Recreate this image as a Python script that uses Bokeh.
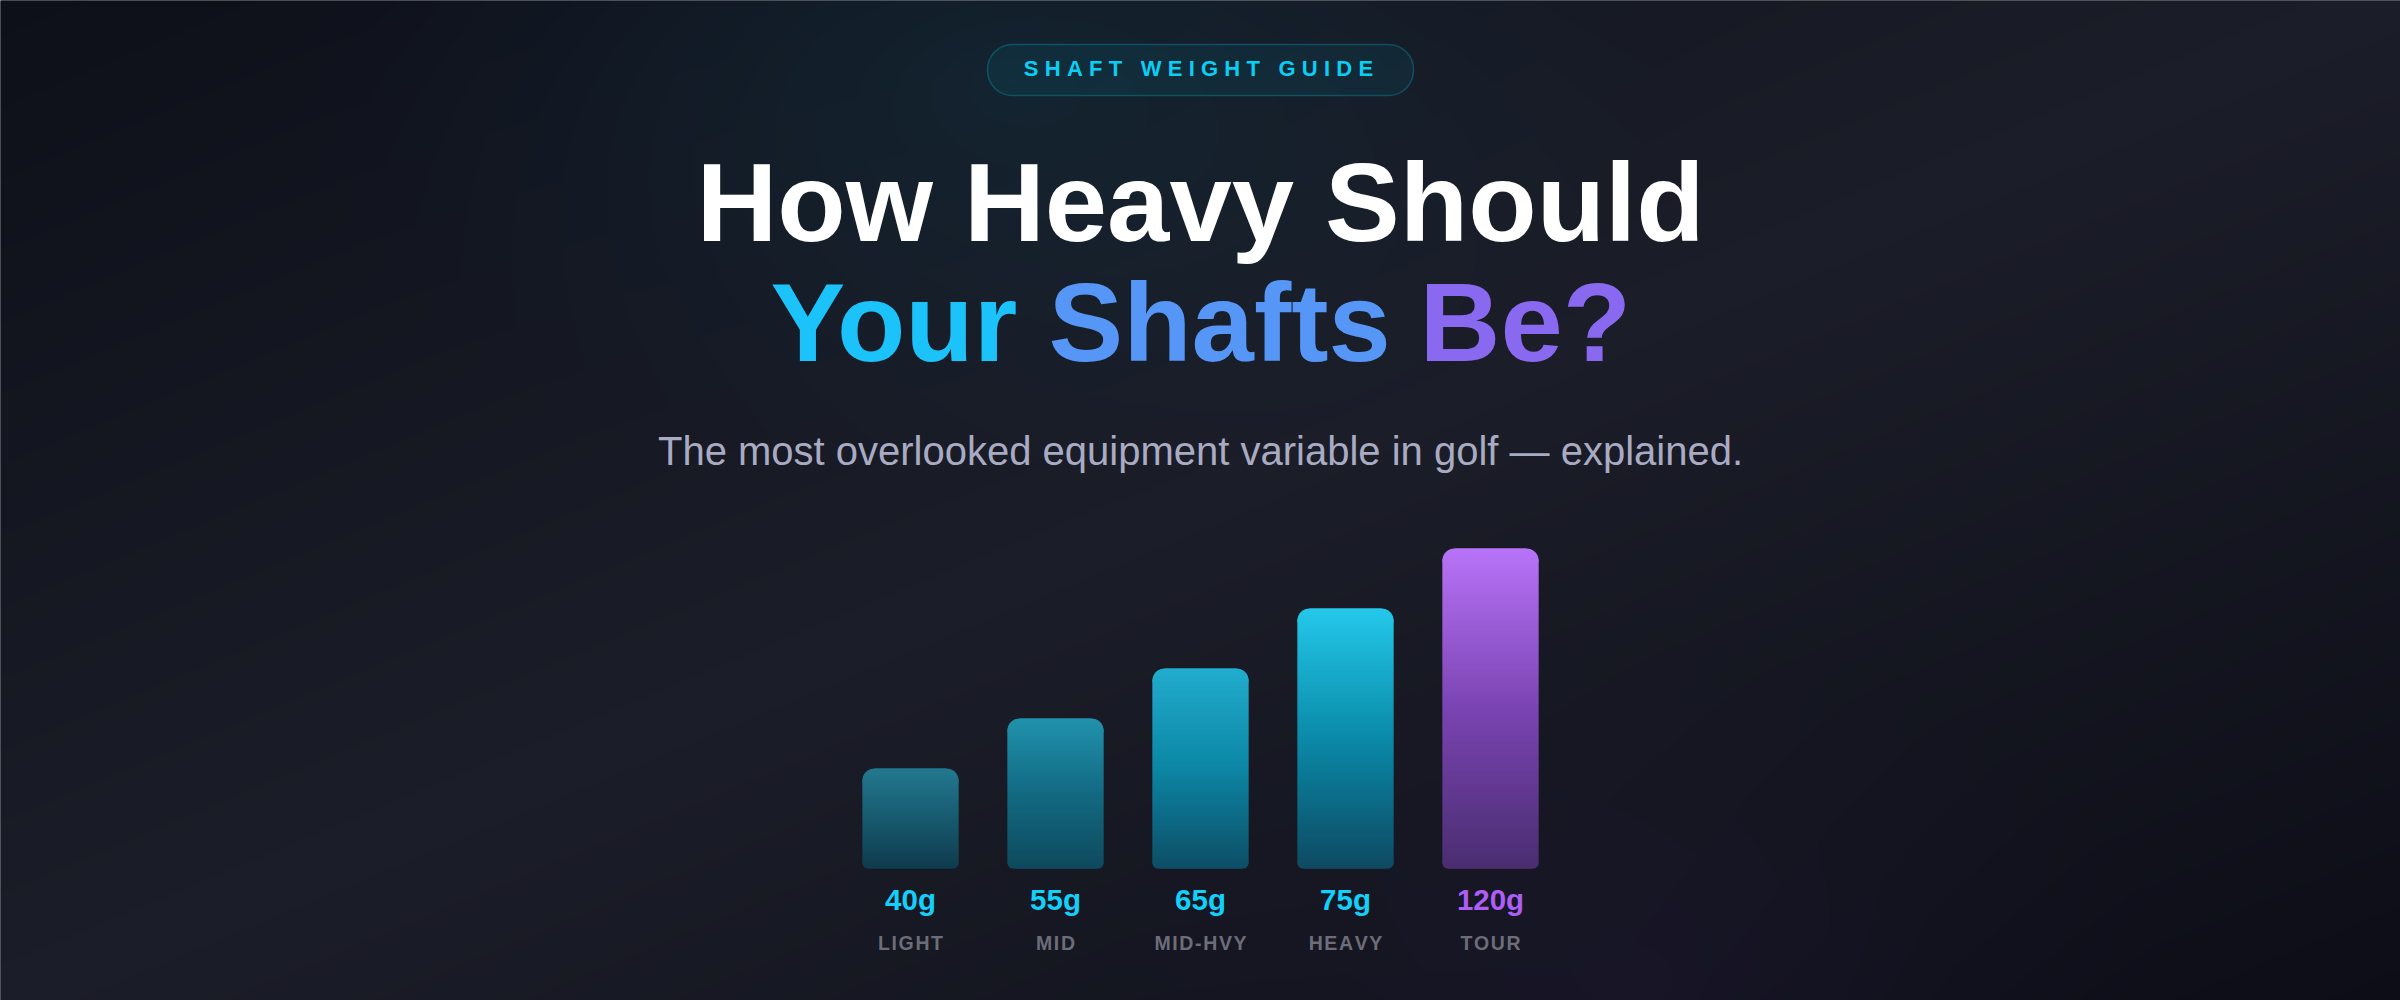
import numpy as np
from bokeh.plotting import figure
from bokeh.models import Range1d, ColumnDataSource
from bokeh.core.properties import value
from bokeh.embed import file_html
from bokeh.resources import INLINE

# ---------------- data ----------------
categories = ["LIGHT", "MID", "MID-HVY", "HEAVY", "TOUR"]
weights_g = [40, 55, 65, 75, 120]
bar_heights = [100, 150, 200, 260, 320]   # drawn bar heights (relative units)

badge_words = ["SHAFT", "WEIGHT", "GUIDE"]
title_line1 = "How Heavy Should"
title_line2_words = ["Your", "Shafts", "Be?"]
subtitle = "The most overlooked equipment variable in golf \u2014 explained."

# ---------------- styles ----------------
bar_stops = [  # top, middle, bottom colours of each bar's gradient
    ["#23798f", "#185a6f", "#0f3b4d"],
    ["#2192ac", "#136a82", "#0f4a5e"],
    ["#22acce", "#0c86a4", "#0d4e66"],
    ["#25c8ea", "#0a8aa8", "#0e4a62"],
    ["#b874f8", "#7a44b2", "#4a2e70"],
]
value_colors = ["#12d0fa", "#12d0fa", "#12d0fa", "#12d0fa", "#ad5ef5"]
word_colors = ["#1cc2fa", "#5596f6", "#8a69f1"]
word_x = [770, 1048, 1419]

W, H = 2400, 1000
FONT = value("Liberation Sans")
BASE_FIX = 0.36   # text is anchored by its cap-middle; shift to put baseline where wanted


def Y(sy, fs=0.0):
    return H - sy + BASE_FIX * fs


def hex2rgb(h):
    return np.array([int(h[i:i + 2], 16) for i in (1, 3, 5)], dtype=float)


def rgb2hex(c):
    c = np.clip(np.round(c), 0, 255).astype(int)
    return "#%02x%02x%02x" % tuple(c)


p = figure(width=W, height=H, x_range=Range1d(0, W), y_range=Range1d(0, H),
           output_backend="svg", toolbar_location=None,
           x_axis_location=None, y_axis_location=None, min_border=0,
           outline_line_color=None, background_fill_color="#151722",
           border_fill_color="#151722")
p.grid.visible = False

# bar coordinate system: category index on x, relative height on y
CAT_STEP = 145.0
p.extra_x_ranges = {"cat": Range1d(2 - 1200 / CAT_STEP, 2 + (W - 1200) / CAT_STEP)}
p.extra_y_ranges = {"h": Range1d(-(H - 868), 868)}

# ---------------- background ----------------
gw, gh = 1204, 504
PADX, PADY = 4, 4
xs = -PADX + (np.arange(gw) + 0.5) * (W + 2 * PADX) / gw
sys_ = (H + PADY) - (np.arange(gh) + 0.5) * (H + 2 * PADY) / gh
X, SY = np.meshgrid(xs, sys_)
t = 0.5 + ((X - W / 2) * H + (SY - H / 2) * W) / (2 * W * H)
c0, c1, c2 = hex2rgb("#0d0f19"), hex2rgb("#1b1d28"), hex2rgb("#0c0d17")
u = np.clip(t / 0.5, 0, 1)[..., None]
v = np.clip((t - 0.5) / 0.5, 0, 1)[..., None]
rgb = np.where(t[..., None] < 0.5, c0 + (c1 - c0) * u, c1 + (c2 - c1) * v)
d = np.sqrt(((X - 1010) / 720) ** 2 + ((SY - 80) / 430) ** 2)
a = (0.085 * np.clip(1 - d, 0, 1) ** 1.2)[..., None]
rgb = rgb * (1 - a) + hex2rgb("#06b6d4") * a
d2 = np.sqrt(((X - 1640) / 520) ** 2 + ((SY - 990) / 330) ** 2)
a2 = (0.045 * np.clip(1 - d2, 0, 1) ** 1.2)[..., None]
rgb = rgb * (1 - a2) + hex2rgb("#a855f7") * a2
img = np.empty((gh, gw), dtype=np.uint32)
view = img.view(dtype=np.uint8).reshape((gh, gw, 4))
view[..., :3] = np.clip(rgb + 0.5, 0, 255).astype(np.uint8)
view[..., 3] = 255
p.image_rgba(image=[img], x=-PADX, y=-PADY, dw=W + 2 * PADX, dh=H + 2 * PADY)

# ---------------- badge ----------------
p.quad(left=987, right=1413, top=Y(44), bottom=Y(95), border_radius=25,
       fill_color="#06b6d4", fill_alpha=0.08,
       line_color="#06b6d4", line_alpha=0.3, line_width=1.5)
LS = "\u2009\u200a"   # wide letter spacing
badge_text = (LS + " " + LS).join(LS.join(w) for w in badge_words)
p.text(x=[1198], y=[Y(76, 22)], text=[badge_text], text_font=FONT,
       text_font_size="22px", text_font_style="bold", text_color="#0ccdf4",
       text_align="center", text_baseline="alphabetic")

# ---------------- titles ----------------
p.text(x=[1200], y=[Y(242, 112)], text=[title_line1], text_font=FONT,
       text_font_size="112px", text_font_style="bold", text_color="#ffffff",
       text_align="center", text_baseline="alphabetic")
p.text(x=word_x, y=[Y(362, 112)] * 3, text=title_line2_words, text_font=FONT,
       text_font_size="112px", text_font_style="bold", text_color=word_colors,
       text_align="left", text_baseline="alphabetic")
p.text(x=[1200], y=[Y(465, 40)], text=[subtitle], text_font=FONT,
       text_font_size="40px", text_color="#a9abc3",
       text_align="center", text_baseline="alphabetic")

# ---------------- bars (vertical gradient built from 1px slices) ----------------
BAR_PX = 96.0
R_T, R_B, OVER = 12, 6, 0.8


def grad(stops, f):
    s = [hex2rgb(c) for c in stops]
    f = min(max(f, 0.0), 1.0)
    if f <= 0.5:
        return rgb2hex(s[0] + (s[1] - s[0]) * (f / 0.5))
    return rgb2hex(s[1] + (s[2] - s[1]) * ((f - 0.5) / 0.5))


caps_t = {"x": [], "top": [], "bottom": [], "color": []}
caps_b = {"x": [], "top": [], "bottom": [], "color": []}
sl = {"x": [], "top": [], "bottom": [], "w": [], "color": []}
for i, (hgt, stops) in enumerate(zip(bar_heights, bar_stops)):
    caps_t["x"].append(i); caps_t["top"].append(hgt)
    caps_t["bottom"].append(hgt - R_T - 2); caps_t["color"].append(grad(stops, R_T / 2 / hgt))
    caps_b["x"].append(i); caps_b["top"].append(R_B + 2)
    caps_b["bottom"].append(0); caps_b["color"].append(grad(stops, 1 - R_B / 2 / hgt))
    for k in range(int(hgt)):
        top = hgt - k
        bottom = top - 1
        inset = 0.0
        if k < R_T:
            inset = R_T - np.sqrt(R_T ** 2 - (R_T - k) ** 2)
        if bottom < R_B:
            inset = max(inset, R_B - np.sqrt(max(R_B ** 2 - (R_B - bottom) ** 2, 0)))
        sl["x"].append(i); sl["top"].append(top)
        sl["bottom"].append(max(bottom - OVER, 0))
        sl["w"].append(float((BAR_PX - 2 * inset) / CAT_STEP))
        sl["color"].append(grad(stops, (k + 0.5) / hgt))

p.vbar(x="x", width=BAR_PX / CAT_STEP, top="top", bottom="bottom", fill_color="color",
       line_color=None, border_radius=(R_T, R_T, 0, 0),
       source=ColumnDataSource(caps_t), x_range_name="cat", y_range_name="h")
p.vbar(x="x", width=BAR_PX / CAT_STEP, top="top", bottom="bottom", fill_color="color",
       line_color=None, border_radius=(0, 0, R_B, R_B),
       source=ColumnDataSource(caps_b), x_range_name="cat", y_range_name="h")
p.vbar(x="x", width="w", top="top", bottom="bottom", fill_color="color",
       line_color=None, source=ColumnDataSource(sl),
       x_range_name="cat", y_range_name="h")

# ---------------- labels ----------------
HS = "\u200a"   # slight letter spacing for category names
lab = ColumnDataSource(dict(
    x=list(range(len(categories))),
    val=[f"{w}g" for w in weights_g],
    vcol=value_colors,
    cat=[HS.join(c) for c in categories],
    vy=[Y(910, 29.5)] * len(categories),
    cy=[Y(950, 19.5)] * len(categories),
))
p.text(x="x", y="vy", text="val", source=lab, x_range_name="cat",
       text_font=FONT, text_font_size="29.5px", text_font_style="bold",
       text_color="vcol", text_align="center", text_baseline="alphabetic")
p.text(x="x", y="cy", text="cat", source=lab, x_range_name="cat",
       text_font=FONT, text_font_size="19.5px", text_font_style="bold",
       text_color="#6c6d78", text_align="center", text_baseline="alphabetic")

open("out.html", "w").write(file_html(p, INLINE, title="Shaft Weight Guide"))
